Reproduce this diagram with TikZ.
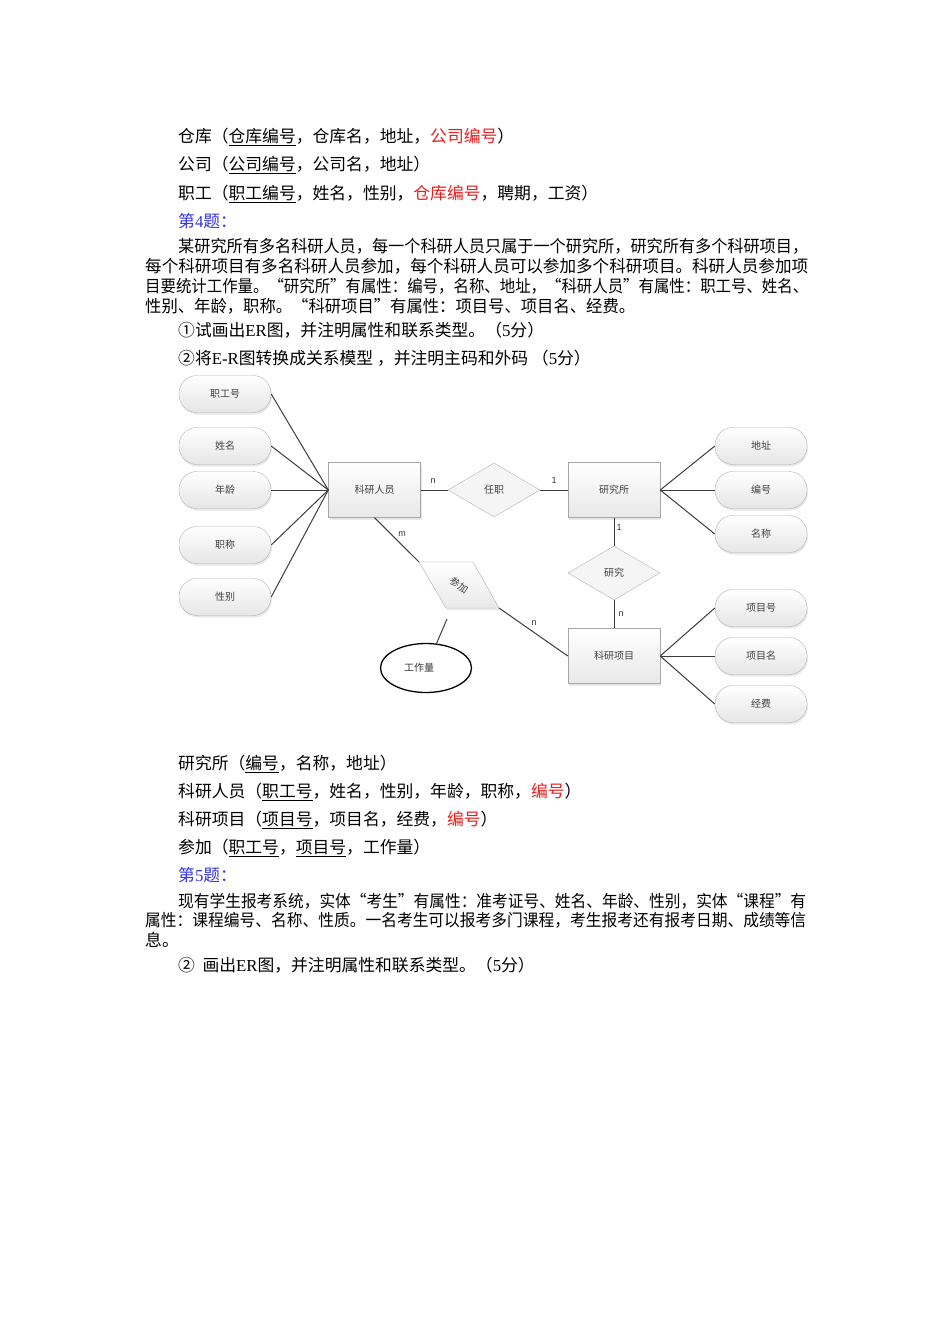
\documentclass[tikz,border=0pt]{standalone}
\usepackage{fontspec}
\usepackage{graphicx}
\setmainfont{Noto Sans CJK SC}
\newfontfamily\lat{Liberation Serif}
\newfontfamily\lab{Liberation Sans}
\usetikzlibrary{shapes.geometric,shadows}
\definecolor{qblue}{RGB}{51,51,230}
\definecolor{qred}{RGB}{230,30,30}
\definecolor{edge}{RGB}{60,60,60}
\newcommand\jl[2]{\resizebox{#1}{\height}{#2}}
\newcommand\rd[1]{\textcolor{qred}{#1}}
\begin{document}
\begin{tikzpicture}[x=1pt,y=-1pt,
  txt/.style={anchor=base west,inner sep=0pt,font=\fontsize{16.8}{16.8}\selectfont},
  ent/.style={rectangle,draw=gray!70,top color=white,bottom color=gray!18,minimum width=92pt,minimum height=55pt,drop shadow={shadow xshift=1pt,shadow yshift=-2pt,fill=black!18},font=\fontsize{10}{10}\selectfont,text=black!75},
  attr/.style={rectangle,rounded corners=18pt,draw=gray!60,top color=white,bottom color=gray!20,minimum width=92pt,minimum height=37pt,drop shadow={shadow xshift=1pt,shadow yshift=-2pt,fill=black!18},font=\fontsize{10}{10}\selectfont,text=black!75},
  rel/.style={diamond,draw=gray!60,fill=gray!8,minimum width=92pt,minimum height=54pt,inner sep=0pt,font=\fontsize{10}{10}\selectfont,text=black!75},
  link/.style={draw=edge,line width=1pt},
  card/.style={inner sep=0pt,font=\lab\fontsize{9}{9}\selectfont,text=black!80}]
\useasboundingbox (0,0) rectangle (950,1344);

\node[txt] (t1) at (178,142) {仓库（\underline{仓库编号}，仓库名，地址，\rd{公司编号}）};
\node[txt] (t2) at (178,170) {公司（\underline{公司编号}，公司名，地址）};
\node[txt] (t3) at (178,199) {职工（\underline{职工编号}，姓名，性别，\rd{仓库编号}，聘期，工资）};
\node[txt,text=qblue] (t4) at (178,227) {第{\lat 4}题：};
\node[txt] (t5) at (178,252) {\jl{630pt}{某研究所有多名科研人员，每一个科研人员只属于一个研究所，研究所有多个科研项目，}};
\node[txt] (t6) at (145,272) {\jl{663pt}{每个科研项目有多名科研人员参加，每个科研人员可以参加多个科研项目。科研人员参加项}};
\node[txt] (t7) at (145,292) {\jl{663pt}{目要统计工作量。“研究所”有属性：编号，名称、地址，“科研人员”有属性：职工号、姓名、}};
\node[txt] (t8) at (145,312) {\jl{490pt}{性别、年龄，职称。“科研项目”有属性：项目号、项目名、经费。}};
\node[txt] (t9) at (178,336) {①试画出{\lat ER}图，并注明属性和联系类型。（{\lat 5}分）};
\node[txt] (t10) at (178,364) {②将{\lat E-R}图转换成关系模型 ，并注明主码和外码 （{\lat 5}分）};

\node[ent] (staff) at (374.5,490) {科研人员};
\node[ent] (inst) at (614,490) {研究所};
\node[ent] (proj) at (614,656) {科研项目};
\node[rel] (serve) at (494,490) {任职};
\node[rel] (study) at (614,573) {研究};

\node[attr] (sno) at (225,394) {职工号};
\node[attr] (sname) at (225,446) {姓名};
\node[attr] (sage) at (225,490) {年龄};
\node[attr] (stitle) at (225,545) {职称};
\node[attr] (ssex) at (225,597) {性别};
\node[attr] (iaddr) at (761,446) {地址};
\node[attr] (ino) at (761,490) {编号};
\node[attr] (iname) at (761,534) {名称};
\node[attr] (pno) at (761,608) {项目号};
\node[attr] (pname) at (761,656) {项目名};
\node[attr] (pfee) at (761,704) {经费};

\coordinate (jtl) at (419,562);
\coordinate (jtr) at (473,562);
\coordinate (jbr) at (499,608);
\coordinate (jbl) at (446,608);
\path[draw=gray!60,top color=white,bottom color=gray!18,drop shadow={shadow xshift=1pt,shadow yshift=-2pt,fill=black!18}] (jtl) -- (jtr) -- (jbr) -- (jbl) -- cycle;
\node[rotate=-35,inner sep=0pt,font=\fontsize{10}{10}\selectfont,text=black!75] (join) at (459,585) {参加};
\node[ellipse,draw=black,line width=1.3pt,minimum width=91pt,minimum height=49pt,font=\fontsize{10}{10}\selectfont,text=black!80] (work) at (426,668) {工作量\hspace*{14pt}};
\coordinate (wtop) at (447,619);

\path[link] (sno.east) -- (staff.west);
\path[link] (sname.east) -- (staff.west);
\path[link] (sage.east) -- (staff.west);
\path[link] (stitle.east) -- (staff.west);
\path[link] (ssex.east) -- (staff.west);
\path[link] (inst.east) -- (iaddr.west);
\path[link] (inst.east) -- (ino.west);
\path[link] (inst.east) -- (iname.west);
\path[link] (proj.east) -- (pno.west);
\path[link] (proj.east) -- (pname.west);
\path[link] (proj.east) -- (pfee.west);
\path[link] (staff.east) -- (serve.west);
\path[link] (serve.east) -- (inst.west);
\path[link] (inst.south) -- (study.north);
\path[link] (study.south) -- (proj.north);
\path[link] (staff.south) -- (jtl);
\path[link] (jbr) -- (proj.west);
\path[link] (wtop) -- (work);

\node[card] (c1) at (433,481) {n};
\node[card] (c2) at (554,480) {1};
\node[card] (c3) at (619,527) {1};
\node[card] (c4) at (621,614) {n};
\node[card] (c5) at (402,534) {m};
\node[card] (c6) at (534,623) {n};

\node[txt] (t11) at (178,769) {研究所（\underline{编号}，名称，地址）};
\node[txt] (t12) at (178,797) {科研人员（\underline{职工号}，姓名，性别，年龄，职称，\rd{编号}）};
\node[txt] (t13) at (178,825) {科研项目（\underline{项目号}，项目名，经费，\rd{编号}）};
\node[txt] (t14) at (178,853) {参加（\underline{职工号}，\underline{项目号}，工作量）};
\node[txt,text=qblue] (t15) at (178,881) {第{\lat 5}题：};
\node[txt] (t16) at (178,907) {\jl{628pt}{现有学生报考系统，实体“考生”有属性：准考证号、姓名、年龄、性别，实体“课程”有}};
\node[txt] (t17) at (145,926) {\jl{661pt}{属性：课程编号、名称、性质。一名考生可以报考多门课程，考生报考还有报考日期、成绩等信}};
\node[txt] (t18) at (145,946) {息。};
\node[txt] (t19) at (178,971) {②\ \ 画出{\lat ER}图，并注明属性和联系类型。（{\lat 5}分）};
\end{tikzpicture}
\end{document}
